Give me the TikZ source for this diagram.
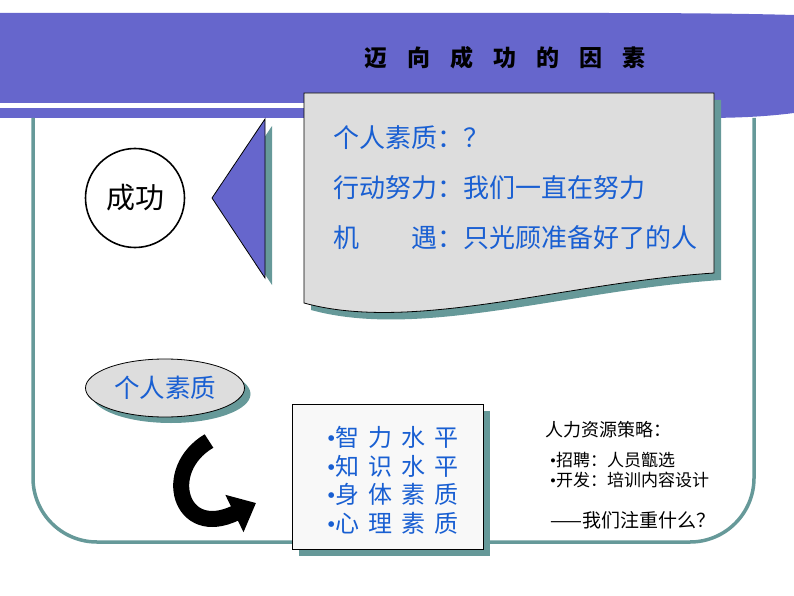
\documentclass[tikz,border=0pt]{standalone}
\usepackage{fontspec}
\setmainfont{Liberation Serif}
\newfontfamily\cjk{Noto Sans CJK SC}
\usetikzlibrary{arrows.meta,shapes.geometric}

\definecolor{bannerpurple}{RGB}{102,102,204}
\definecolor{frameteal}{RGB}{102,153,153}
\definecolor{textblue}{RGB}{25,95,210}
\definecolor{boxgray}{RGB}{221,221,221}
\definecolor{listfill}{RGB}{248,248,248}

\tikzset{
  shadowfill/.style={fill=frameteal, draw=none},
  callouttext/.style={anchor=west, inner sep=0, text=textblue, font=\cjk\fontsize{26}{30}\selectfont},
  listtext/.style={anchor=west, inner sep=0, text=textblue, font=\cjk\fontsize{24}{28}\selectfont},
  notetext/.style={anchor=west, inner sep=0, font=\cjk\fontsize{17}{20}\selectfont}
}
\newcommand\chargap{\hspace{9pt}}

\begin{document}
\begin{tikzpicture}[x=1pt,y=1pt,yscale=-1,xscale=1]
\useasboundingbox (0,0) rectangle (794,596);

%Banner
\fill[bannerpurple] (0,13) -- (600,13) .. controls (700,13) and (760,14) .. (794,15) -- (794,113) .. controls (770,116) and (745,118) .. (700,118) -- (0,118) -- cycle;
\draw[white, line width=4.5] (0,105.3) -- (320,105.3);
\node[font=\cjk\bfseries\fontsize{23}{23}\selectfont] (title) at (505,58) {迈\hspace{20pt}向\hspace{20pt}成\hspace{20pt}功\hspace{20pt}的\hspace{20pt}因\hspace{20pt}素};

%Frame
\draw[frameteal, line width=3.5, rounded corners=64] (33,118) -- (33,542) -- (754,542) -- (754,118);

%Success circle
\node[draw, circle, line width=1.6, fill=white, minimum size=99, inner sep=0, font=\cjk\fontsize{29}{29}\selectfont] (success) at (135,198) {成功};

%Pointer triangle
\fill[shadowfill] (219,205) -- (272,126) -- (272,285) -- cycle;
\draw[fill=bannerpurple, line width=0.8] (212,198) -- (265,119) -- (265,278) -- cycle;

%Callout: shadow, then sheet
\fill[shadowfill] (311,100) -- (721,100) -- (721,280) .. controls (570,290) and (420,340) .. (311,310) -- cycle;
\draw[fill=boxgray, line width=0.8] (304,93) -- (714,93) -- (714,273) .. controls (563,283) and (413,333) .. (304,303) -- cycle;

\node[callouttext] (trait) at (333,138) {个人素质：？};
\node[callouttext] (effort) at (333,188) {行动努力：我们一直在努力};
\node[callouttext] (chance) at (333,238) {机　　遇：只光顾准备好了的人};

%Personal quality ellipse
\fill[shadowfill] (171,394) ellipse [x radius=79.5, y radius=29];
\node[draw, ellipse, fill=boxgray, line width=0.8, minimum width=159, minimum height=58, inner sep=0, text=textblue, font=\cjk\fontsize{25.5}{26}\selectfont] (quality) at (165,388) {个人素质};

%Curved arrow
\draw[line width=16, -{Triangle[length=24pt, width=40pt]}] (209,441) .. controls (160,470) and (180,540) .. (256,503);

%Quality list
\fill[shadowfill] (299,411) rectangle (490,556);
\node[draw, fill=listfill, line width=0.8, anchor=north west, minimum width=191, minimum height=145] (list) at (292,404) {};
\node[listtext] (iq) at (327,437) {{\rmfamily •}智\chargap 力\chargap 水\chargap 平};
\node[listtext] (know) at (327,466) {{\rmfamily •}知\chargap 识\chargap 水\chargap 平};
\node[listtext] (body) at (327,494) {{\rmfamily •}身\chargap 体\chargap 素\chargap 质};
\node[listtext] (mind) at (327,523) {{\rmfamily •}心\chargap 理\chargap 素\chargap 质};

%HR strategy notes
\node[notetext, font=\cjk\fontsize{18}{20}\selectfont] (hr) at (545,430) {人力资源策略：};
\node[notetext] (hire) at (550,460) {{\rmfamily •}招聘：人员甑选};
\node[notetext] (train) at (550,480) {{\rmfamily •}开发：培训内容设计};
\node[notetext, anchor=east, font=\cjk\fontsize{19}{20}\selectfont] (focus) at (716,520) {——我们注重什么？};

\end{tikzpicture}
\end{document}
